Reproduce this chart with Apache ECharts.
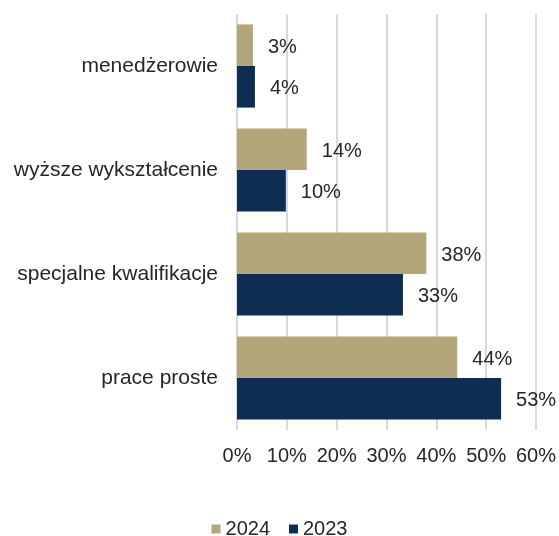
<!DOCTYPE html>
<html>
<head>
<meta charset="utf-8">
<script src="https://cdn.jsdelivr.net/npm/echarts@6/dist/echarts.min.js"></script>
<style>
  html, body { margin: 0; padding: 0; background: #fff; }
  #chart { width: 559px; height: 536px; }
</style>
</head>
<body>
<div id="chart"></div>
<script>
var categories = ['menedżerowie', 'wyższe wykształcenie', 'specjalne kwalifikacje', 'prace proste'];
var values2024 = [3.2, 14, 38, 44.2];
var values2023 = [3.6, 9.8, 33.3, 53];
var xTicks = [0, 10, 20, 30, 40, 50, 60];

var myChart = echarts.init(document.getElementById('chart'));

var labelStyle = {
    show: true,
    position: 'right',
    distance: 15,
    offset: [0, 2],
    color: '#262626',
    fontSize: 20,
    fontFamily: 'Liberation Sans, Arial, sans-serif',
    formatter: function (p) {
        return Math.round(p.value) + '%';
    }
};

var option = {
    backgroundColor: '#fff',
    animation: false,
    textStyle: { fontFamily: 'Liberation Sans, Arial, sans-serif' },
    grid: {
        left: 237,
        right: 23,
        top: 14,
        bottom: 106
    },
    legend: {
        top: 514,
        left: 'center',
        itemWidth: 9,
        itemHeight: 9,
        itemGap: 19,
        icon: 'rect',
        textStyle: { fontSize: 20, color: '#262626' },
        data: ['2024', '2023']
    },
    xAxis: {
        type: 'value',
        min: xTicks[0],
        max: xTicks[xTicks.length - 1],
        interval: 10,
        axisLine: { show: false },
        axisTick: { show: false },
        splitLine: { show: true, lineStyle: { color: '#d9d9d9', width: 2 } },
        axisLabel: {
            fontSize: 20,
            color: '#262626',
            margin: 16,
            formatter: '{value}%'
        }
    },
    yAxis: {
        type: 'category',
        inverse: true,
        data: categories,
        axisLine: { show: false },
        axisTick: { show: false },
        axisLabel: {
            fontSize: 21,
            color: '#262626',
            margin: 19,
            padding: [4, 0, 0, 0]
        }
    },
    series: [
        {
            name: '2024',
            type: 'bar',
            data: values2024,
            barCategoryGap: '20%',
            barGap: '0%',
            itemStyle: { color: '#b2a67a' },
            label: labelStyle
        },
        {
            name: '2023',
            type: 'bar',
            data: values2023,
            barCategoryGap: '20%',
            barGap: '0%',
            itemStyle: { color: '#0e2d52' },
            label: labelStyle
        }
    ]
};

myChart.setOption(option);

window.addEventListener('resize', function () {
    myChart.resize();
});
</script>
</body>
</html>
